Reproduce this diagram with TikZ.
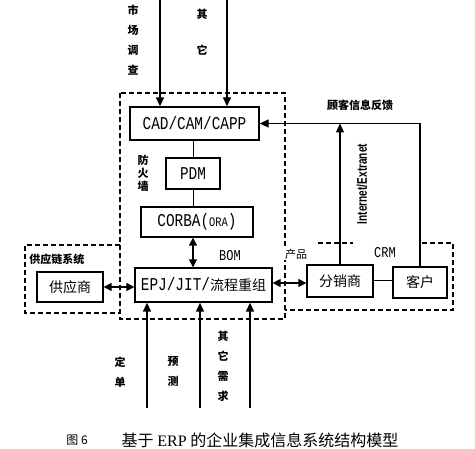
\documentclass[tikz,border=0pt]{standalone}
\usepackage{fontspec}
\usepackage{tikz}
\usetikzlibrary{arrows.meta}
\newfontfamily\cjk{Noto Sans CJK SC}
\newfontfamily\mono[FakeStretch=0.8]{Liberation Mono}
\newfontfamily\narrowsf[FakeStretch=0.72]{Liberation Sans}

\begin{document}
\begin{tikzpicture}[x=1pt,y=-1pt,
	box/.style={draw,line width=1.3pt,minimum width=#1,inner sep=0pt},
	dashbox/.style={line width=1.2pt,dash pattern=on 5pt off 3pt},
	arr/.style={line width=1.3pt,-{Triangle[length=9pt,width=8pt]}},
	darr/.style={line width=1.3pt,{Triangle[length=8pt,width=8pt]}-{Triangle[length=8pt,width=8pt]}},
	lab/.style={font=\cjk\bfseries\fontsize{11}{12}\selectfont,inner sep=0pt},
	vlab/.style={lab,align=center,font=\cjk\bfseries\fontsize{11}{20}\selectfont}]
			\useasboundingbox (0,0) rectangle (475,449);
			\draw[dashbox] (120,93) rectangle (285,319);
			\draw[dashbox] (120,245) -- (25,245) -- (25,313) -- (120,313);
			\draw[dashbox] (318,243) -- (353,243);
			\draw[dashbox] (422,243) -- (453,243) -- (453,310) -- (285,310);
			\node[box=129pt,minimum height=33pt] (cad) at (194.5,123.5) {\mono\fontsize{18}{18}\selectfont CAD/CAM/CAPP};
			\node[box=54pt,minimum height=31pt] (pdm) at (193,173.5) {\mono\fontsize{18}{18}\selectfont PDM};
			\node[box=112pt,minimum height=30pt] (corba) at (197,222) {\mono\fontsize{18}{18}\selectfont CORBA(\fontsize{13}{13}\selectfont ORA\fontsize{18}{18}\selectfont)};
			\node[box=137pt,minimum height=34pt] (epj) at (203.5,285) {\mono\fontsize{18}{18}\selectfont EPJ/JIT/{\cjk\fontsize{14}{14}\selectfont 流程重组}};
			\node[box=66pt,minimum height=30pt] (gys) at (70,287) {\cjk\fontsize{14}{14}\selectfont 供应商};
			\node[box=66pt,minimum height=32pt] (fxs) at (340,281) {\cjk\fontsize{14}{14}\selectfont 分销商};
			\node[box=54pt,minimum height=31pt] (kh) at (420,282.5) {\cjk\fontsize{14}{14}\selectfont 客户};
			\coordinate (sc) at (160,0);
			\coordinate (qt) at (227,0);
			\coordinate (dd) at (147,408);
			\coordinate (yc) at (200,408);
			\coordinate (qtxq) at (250,408);
			\draw[arr] (sc) -- (sc |- cad.north);
			\draw[arr] (qt) -- (qt |- cad.north);
			\draw[line width=1pt] (pdm.north) -- (pdm.north |- cad.south);
			\draw[line width=1pt] (pdm.south) -- (pdm.south |- corba.north);
			\draw[darr] (corba.south -| pdm.south) -- (epj.north -| pdm.south);
			\draw[darr] (gys.east) -- (gys.east -| epj.west);
			\draw[darr] (fxs.west |- 0,283) -- (epj.east |- 0,283);
			\draw[line width=1pt] (fxs.east) -- (kh.west |- fxs.east);
			\draw[arr] (fxs.north) -- (fxs.north |- cad.east);
			\draw[arr] (kh.north) -- (kh.north |- cad.east) -- (cad.east);
			\foreach \c in {dd,yc,qtxq}
				\draw[arr] (\c) -- (\c |- epj.south);
			\node[vlab] (l1) at (133,40) {市\\场\\调\\查};
			\node[vlab] (l2) at (202,32) {其\\[16pt]它};
			\node[vlab,font=\cjk\bfseries\fontsize{11}{13}\selectfont] (l3) at (143,173) {防\\火\\墙};
			\node[lab,font=\mono\fontsize{15}{15}\selectfont] (l4) at (230,256) {BOM};
			\node[lab] (l5) at (57,259) {供应链系统};
			\node[lab,fill=white,inner sep=1pt,font=\cjk\fontsize{11}{12}\selectfont] (l6) at (296,254) {产品};
			\node[lab,font=\mono\fontsize{15}{15}\selectfont] (l7) at (385,253) {CRM};
			\node[lab] (l8) at (360,105) {顾客信息反馈};
			\node[lab,rotate=90,font=\narrowsf\bfseries\fontsize{14}{14}\selectfont] (l9) at (362,184) {Internet/Extranet};
			\node[vlab] (l10) at (120,372) {定\\单};
			\node[vlab] (l11) at (173,372) {预\\测};
			\node[vlab] (l12) at (223,366) {其\\它\\需\\求};
			\node[lab,font=\cjk\fontsize{12}{12}\selectfont] (l13) at (77,440) {图 6};
			\node[lab,font=\cjk\fontsize{16}{16}\selectfont] (l14) at (260,440) {基于 {\fontspec{Liberation Serif}ERP} 的企业集成信息系统结构模型};
		\end{tikzpicture}
\end{document}
